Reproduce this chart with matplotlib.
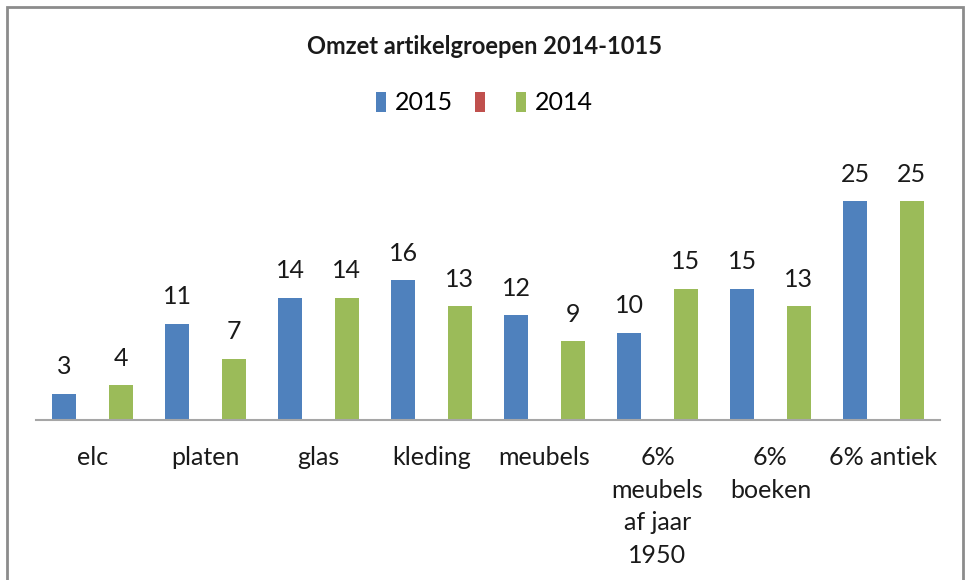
import numpy as np
import matplotlib.pyplot as plt
from matplotlib.patches import Rectangle

categories = ["elc", "platen", "glas", "kleding", "meubels",
              "6%\nmeubels\naf jaar\n1950", "6%\nboeken", "6% antiek"]
series_names = ["2015", "", "2014"]
values_2015 = [3, 11, 14, 16, 12, 10, 15, 25]
values_red = [0, 0, 0, 0, 0, 0, 0, 0]
values_2014 = [4, 7, 14, 13, 9, 15, 13, 25]
colors = ["#4F81BD", "#C0504D", "#9BBB59"]

plt.rcParams['font.family'] = ['Lato', 'DejaVu Sans']

fig = plt.figure(figsize=(9.69, 5.8), dpi=100)
fig.patches.append(Rectangle((7 / 969, -0.05), 956 / 969, 1.05 - 7 / 580,
                             transform=fig.transFigure, fill=False,
                             edgecolor="#8c8c8c", linewidth=2))

ax = fig.add_axes([36 / 969, 160 / 580, 904 / 969, 262.5 / 580])
x = np.arange(len(categories))
w = 0.21
offsets = [-0.25, 0, 0.25]
bars = []
for vals, off, col in zip([values_2015, values_red, values_2014], offsets, colors):
    bars.append(ax.bar(x + off, vals, width=w, color=col))

for b, vals in ((bars[0], values_2015), (bars[2], values_2014)):
    ax.bar_label(b, labels=[str(v) for v in vals], padding=11, fontsize=18,
                 color="#1a1a1a")

ax.set_xlim(-0.5, len(categories) - 0.5)
ax.set_ylim(0, 30)
ax.set_yticks([])
ax.set_xticks(x)
ax.set_xticklabels(categories, fontsize=18, color="#1a1a1a", linespacing=1.5)
ax.tick_params(axis="x", length=0, pad=19)
for s in ["top", "right", "left"]:
    ax.spines[s].set_visible(False)
ax.spines["bottom"].set_color("#a6a6a6")
ax.spines["bottom"].set_linewidth(1.5)

fig.text(0.5, 1 - 46 / 580, "Omzet artikelgroepen 2014-1015", ha="center",
         va="center", fontsize=17, fontweight="bold", color="#1a1a1a")
fig.legend(bars, series_names, loc="center", bbox_to_anchor=(0.5, 1 - 103 / 580),
           ncol=3, frameon=False, fontsize=18, handlelength=0.4,
           handleheight=0.9, handletextpad=0.35, columnspacing=0.9)

fig.savefig("out.png", dpi=100)
